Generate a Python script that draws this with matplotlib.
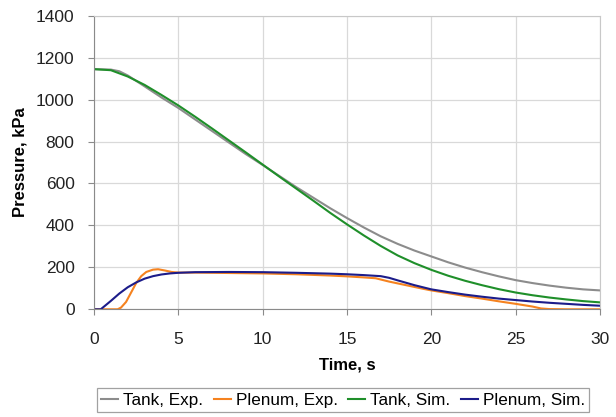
import numpy as np
import matplotlib.pyplot as plt

plt.rcParams['font.family'] = ['Liberation Sans', 'DejaVu Sans']

# tank pressure, experiment
t_tank_exp = [0, 1, 1.5, 2, 3, 4, 5, 6, 7, 8, 9, 10, 11, 12, 13, 14, 15, 16, 17, 18,
              19, 20, 21, 22, 23, 24, 25, 26, 27, 28, 29, 30]
p_tank_exp = [1145, 1143, 1135, 1115, 1063, 1010, 960, 905, 850, 795, 740, 688, 635, 582,
              532, 482, 435, 390, 348, 312, 280, 252, 224, 199, 177, 157, 139, 125, 113,
              103, 95, 90]

# tank pressure, simulation
t_tank_sim = [0, 1, 2, 3, 4, 5, 6, 7, 8, 9, 10, 11, 12, 13, 14, 15, 16, 17, 18, 19,
              20, 21, 22, 23, 24, 25, 26, 27, 28, 29, 30]
p_tank_sim = [1145, 1140, 1110, 1070, 1022, 972, 918, 862, 805, 748, 690, 632, 575, 518,
              460, 405, 352, 302, 257, 220, 188, 160, 136, 115, 96, 80, 67, 56, 47, 39, 33]

# plenum pressure, experiment
t_plen_exp = [0, 1.4, 1.6, 1.9, 2.2, 2.5, 2.8, 3.1, 3.5, 3.8, 4.2, 4.6, 5, 6, 8, 10, 12,
              14, 15, 16, 16.7, 17.5, 18.5, 19.5, 20, 21, 22, 23, 24, 25, 26, 26.5, 27,
              28, 30]
p_plen_exp = [0, 0, 8, 35, 80, 125, 158, 178, 189, 191, 185, 178, 175, 175, 173, 171, 167,
              161, 157, 152, 148, 132, 115, 98, 90, 77, 63, 51, 38, 26, 13, 4, 1, 0, 0]

# plenum pressure, simulation
t_plen_sim = [0, 0.4, 1, 1.5, 2, 2.5, 3, 3.5, 4, 4.5, 5, 6, 8, 10, 12, 14, 15, 16, 17,
              17.5, 18, 19, 20, 21, 22, 23, 24, 25, 26, 27, 28, 29, 30]
p_plen_sim = [0, 0, 40, 75, 105, 128, 146, 158, 166, 171, 174, 177, 178, 177, 174, 170,
              167, 163, 158, 150, 138, 115, 95, 82, 70, 60, 51, 44, 37, 31, 26, 21, 17]

fig = plt.figure(figsize=(6.16, 4.17), dpi=100)
ax = fig.add_axes([0.1526, 0.2583, 0.8214, 0.7041])

ax.plot(t_tank_exp, p_tank_exp, color='#8c8c8c', lw=1.5, label='Tank, Exp.')
ax.plot(t_plen_exp, p_plen_exp, color='#f5821f', lw=1.5, label='Plenum, Exp.')
ax.plot(t_tank_sim, p_tank_sim, color='#1f8f2a', lw=1.5, label='Tank, Sim.')
ax.plot(t_plen_sim, p_plen_sim, color='#1c1c8a', lw=1.5, label='Plenum, Sim.')

ax.set_xlim(0, 30)
ax.set_ylim(0, 1400)
ax.set_xticks(np.arange(0, 31, 5))
ax.set_yticks(np.arange(0, 1401, 200))
ax.grid(True, color='#d9d9d9', lw=0.9)
ax.set_axisbelow(True)

for side in ['top', 'right']:
    ax.spines[side].set_color('#c8c8c8')
for side in ['left', 'bottom']:
    ax.spines[side].set_color('#8a8a8a')
ax.tick_params(axis='both', direction='out', length=4, color='#8a8a8a',
               labelsize=12.5, labelcolor='#222222')
ax.tick_params(axis='x', pad=12)
ax.tick_params(axis='y', pad=10)

ax.set_xlabel('Time, s', fontsize=12, fontweight='bold', labelpad=8)
ax.set_ylabel('Pressure, kPa', fontsize=12, fontweight='bold', labelpad=6)

leg = fig.legend(loc='lower center', bbox_to_anchor=(0.557, -0.008), ncol=4,
                 fontsize=12.3, handlelength=1.0, handletextpad=0.3,
                 columnspacing=0.6, borderpad=0.25, fancybox=False)
leg.get_frame().set_edgecolor('#8a8a8a')
leg.get_frame().set_linewidth(0.9)

fig.savefig('out.png', dpi=100)
